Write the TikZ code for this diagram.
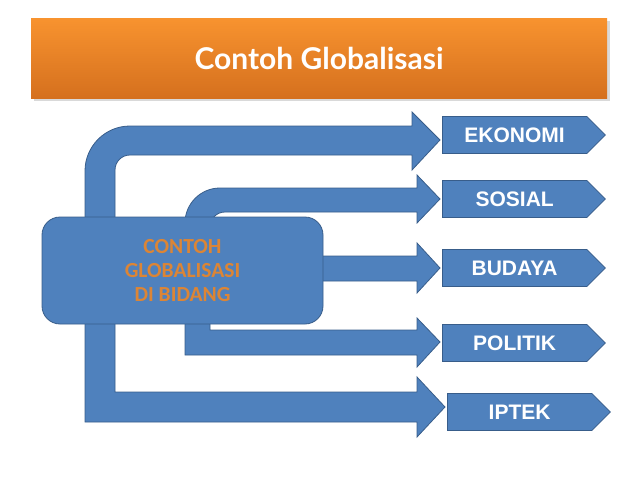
\documentclass[tikz,border=0pt]{standalone}
\usepackage{fontspec}
\setmainfont{Liberation Sans}
\newfontfamily\titlefont{Lato}
\newfontfamily\boxfont{Carlito}
\usetikzlibrary{shapes.symbols,shadows}

\definecolor{boxblue}{HTML}{4F81BD}
\definecolor{boxline}{HTML}{385D8A}
\definecolor{bartop}{HTML}{F8932F}
\definecolor{barbottom}{HTML}{D5701E}
\definecolor{textorange}{HTML}{DC8535}

\begin{document}
\begin{tikzpicture}[x=1pt, y=-1pt, >=stealth]

    \tikzset{%
    every block/.style={
        fill=boxblue,
        draw=boxline,
        line width=0.8pt
        },
    every field/.style={
        every block,
        signal,
        signal to=east,
        signal pointer angle=90,
        minimum width=163pt,
        minimum height=37pt,
        inner sep=0pt,
        anchor=west,
        text=white,
        font=\bfseries\fontsize{21}{24}\selectfont
        },
    }

    \useasboundingbox (0,0) rectangle (638,479);

    % Title bar
    \node [top color=bartop, bottom color=barbottom, drop shadow={opacity=0.3},
        minimum width=576pt, minimum height=80pt, text=white,
        font=\titlefont\bfseries\fontsize{30}{34}\selectfont] (judul) at (319,58) {Contoh Globalisasi};

    % Outer arrow: EKONOMI on top, IPTEK at the bottom
    \draw [every block] (440,140) -- (412,170) -- (412,155) -- (130,155)
        arc [start angle=90, end angle=180, radius=15pt] -- (115,392)
        -- (417,392) -- (417,377) -- (445,407) -- (417,437) -- (417,422)
        -- (85,422) -- (85,171) arc [start angle=180, end angle=90, radius=45pt]
        -- (412,126) -- (412,112) -- cycle;

    % Inner arrow: SOSIAL on top, POLITIK at the bottom
    \draw [every block] (440,199) -- (417,223) -- (417,212) -- (225,212)
        arc [start angle=90, end angle=180, radius=15pt] -- (210,330)
        -- (417,330) -- (417,318) -- (440,342) -- (417,367) -- (417,355)
        -- (185,355) -- (185,223) arc [start angle=180, end angle=90, radius=35pt]
        -- (417,188) -- (417,175) -- cycle;

    % Middle arrow: BUDAYA
    \draw [every block] (300,256) -- (417,256) -- (417,243) -- (440,268)
        -- (417,293) -- (417,281) -- (300,281) -- cycle;

    % Central box
    \node [every block, rounded corners=18pt, minimum width=281pt, minimum height=107pt,
        align=center, text=textorange,
        font=\boxfont\bfseries\fontsize{21.5}{24}\selectfont] (bidang) at (182.5,270.5)
        {CONTOH\\GLOBALISASI\\DI BIDANG};

    % Field boxes on the right
    \foreach \m/\x/\y [count=\i] in {EKONOMI/442/135, SOSIAL/442/199, BUDAYA/442/268, POLITIK/442/343, IPTEK/447/412}
    \node [every field/.try] (field-\i) at (\x,\y) {\m};

\end{tikzpicture}
\end{document}
